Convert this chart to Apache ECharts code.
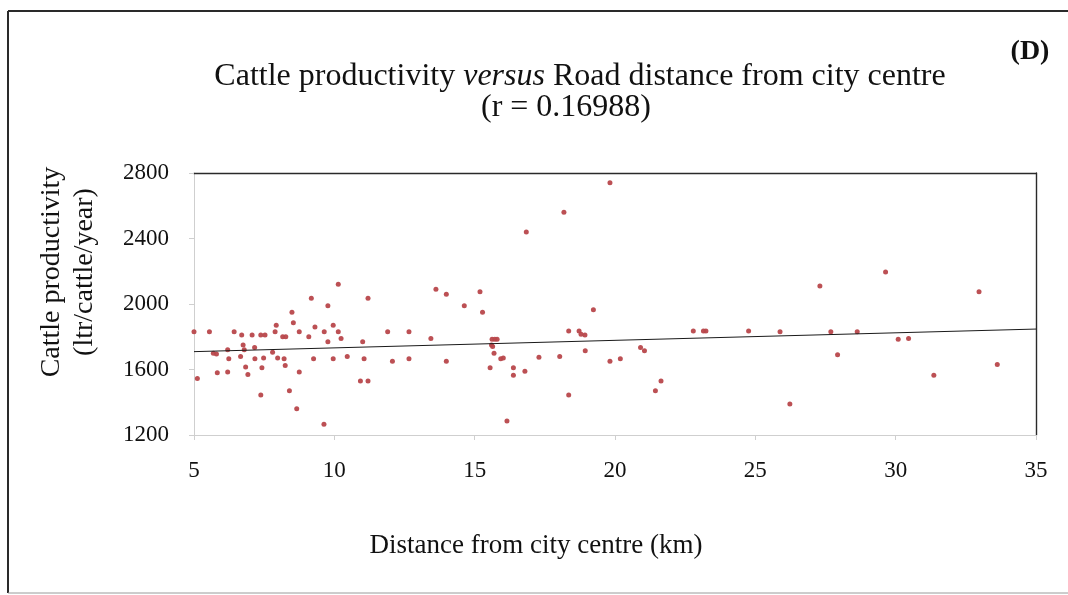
<!DOCTYPE html>
<html>
<head>
<meta charset="utf-8">
<script src="https://cdn.jsdelivr.net/npm/echarts@6/dist/echarts.min.js"></script>
<style>
  html, body { margin: 0; padding: 0; background: #fff; }
  #chart { width: 1068px; height: 595px; }
</style>
</head>
<body>
<div id="chart"></div>
<script>
// Road distance from city centre (km) for each surveyed farm
const distanceKm = [
  5.0, 5.12, 5.55, 5.69, 5.8, 5.83, 6.2, 6.24, 6.2, 6.43, 6.7, 6.75, 6.66, 6.79, 6.84, 6.92,
  7.07, 7.16, 7.17, 7.38, 7.53, 7.42, 7.48, 7.38, 7.8, 7.89, 7.93, 7.98, 8.16, 8.27, 8.21, 8.25,
  8.4, 8.49, 8.54, 8.66, 8.75, 8.75, 9.09, 9.18, 9.26, 9.31, 9.63, 9.64, 9.77, 9.77, 9.96, 9.96,
  10.14, 10.14, 10.24, 10.46, 10.93, 11.01, 11.06, 11.2, 11.2, 11.9, 12.07, 12.66, 12.66, 13.44,
  13.62, 13.99, 13.99, 14.63,
  15.19, 15.28, 15.62, 15.72, 15.8, 15.6, 15.64, 15.69, 15.55, 15.93, 16.02, 16.15, 16.38, 16.38,
  16.79, 16.84, 17.29, 18.03, 18.18, 18.35, 18.35, 18.72, 18.79, 18.93, 18.94, 19.23, 19.82, 19.82,
  20.19, 20.91, 21.05, 21.44, 21.64, 22.79, 23.15, 23.24, 24.76,
  25.88, 26.23, 27.3, 27.69, 27.93, 28.63, 29.64, 30.09, 30.46, 31.36, 32.97, 33.62
];

// Cattle productivity (ltr/cattle/year), same order as distanceKm
const productivity = [
  1830, 1545, 1830, 1700, 1695, 1580, 1720, 1665, 1585, 1830, 1810, 1750, 1680, 1720, 1615, 1570,
  1810, 1735, 1665, 1810, 1810, 1610, 1670, 1445, 1705, 1830, 1870, 1670, 1800, 1800, 1665, 1625,
  1470, 1950, 1885, 1360, 1830, 1585, 1800, 2035, 1665, 1860, 1265, 1830, 1990, 1770, 1870, 1665,
  2120, 1830, 1790, 1680, 1530, 1770, 1665, 2035, 1530, 1830, 1650, 1830, 1665, 1790,
  2090, 2060, 1650, 1990,
  2075, 1950, 1785, 1785, 1785, 1750, 1740, 1700, 1610, 1665, 1670, 1285, 1610, 1565,
  1590, 2440, 1675, 1680, 2560, 1835, 1445, 1835, 1815, 1810, 1715, 1965, 2740, 1650,
  1665, 1735, 1715, 1470, 1530, 1835, 1835, 1835, 1835,
  1830, 1390, 2110, 1830, 1690, 1830, 2195, 1785, 1790, 1565, 2075, 1630
];

// Linear trend line end points [distance, productivity]
const trendX = [5, 35];
const trendY = [1709, 1847];

// Axis ticks
const xTicks = [5, 10, 15, 20, 25, 30, 35];
const yTicks = [1200, 1600, 2000, 2400, 2800];

const serif = '"Liberation Serif", "DejaVu Serif", serif';
const points = distanceKm.map((d, i) => [d, productivity[i]]);
const trend = trendX.map((d, i) => [d, trendY[i]]);

const chart = echarts.init(document.getElementById('chart'), null, { renderer: 'canvas' });

const axisGrey = '#cfcfcf';
const frameDark = '#2a2a2a';
const ink = '#111111';

chart.setOption({
  animation: false,
  backgroundColor: '#ffffff',
  grid: { left: 194, top: 173, right: 32, bottom: 160, containLabel: false },
  xAxis: [
    {
      type: 'value',
      position: 'bottom',
      min: xTicks[0],
      max: xTicks[xTicks.length - 1],
      interval: xTicks[1] - xTicks[0],
      axisLine: { show: true, lineStyle: { color: axisGrey, width: 1 } },
      axisTick: { show: true, inside: false, length: 5, lineStyle: { color: axisGrey } },
      axisLabel: { color: ink, fontFamily: serif, fontSize: 23, margin: 24, formatter: v => String(v) },
      splitLine: { show: false }
    },
    {
      type: 'value',
      position: 'top',
      min: xTicks[0],
      max: xTicks[xTicks.length - 1],
      axisLine: { show: true, onZero: false, lineStyle: { color: frameDark, width: 1.4 } },
      axisTick: { show: false },
      axisLabel: { show: false },
      splitLine: { show: false }
    }
  ],
  yAxis: [
    {
      type: 'value',
      position: 'left',
      min: yTicks[0],
      max: yTicks[yTicks.length - 1],
      interval: yTicks[1] - yTicks[0],
      axisLine: { show: true, lineStyle: { color: axisGrey, width: 1 } },
      axisTick: { show: true, inside: false, length: 5, lineStyle: { color: axisGrey } },
      axisLabel: { color: ink, fontFamily: serif, fontSize: 23, margin: 25, formatter: v => String(v) },
      splitLine: { show: false }
    },
    {
      type: 'value',
      position: 'right',
      min: yTicks[0],
      max: yTicks[yTicks.length - 1],
      axisLine: { show: true, onZero: false, lineStyle: { color: frameDark, width: 1.4 } },
      axisTick: { show: false },
      axisLabel: { show: false },
      splitLine: { show: false }
    }
  ],
  series: [
    {
      name: 'Farms',
      type: 'scatter',
      xAxisIndex: 0,
      yAxisIndex: 0,
      data: points,
      symbol: 'circle',
      symbolSize: 5,
      itemStyle: { color: '#b8474b', opacity: 0.95 }
    },
    {
      name: 'Trend',
      type: 'line',
      xAxisIndex: 0,
      yAxisIndex: 0,
      data: trend,
      symbol: 'none',
      lineStyle: { color: '#1a1a1a', width: 1 },
      z: 3
    }
  ],
  graphic: [
    // outer frame
    { type: 'line', shape: { x1: 8, y1: 11, x2: 1068, y2: 11 }, style: { stroke: frameDark, lineWidth: 2 } },
    { type: 'line', shape: { x1: 8, y1: 11, x2: 8, y2: 593 }, style: { stroke: frameDark, lineWidth: 2 } },
    { type: 'line', shape: { x1: 8, y1: 593, x2: 1068, y2: 593 }, style: { stroke: '#9a9a9a', lineWidth: 1 } },
    // panel tag
    {
      type: 'text', x: 1030, y: 52,
      style: { text: '(D)', font: 'bold 28px ' + serif, fill: ink, textAlign: 'center', textVerticalAlign: 'middle' }
    },
    // title
    {
      type: 'text', x: 580, y: 77,
      style: {
        text: '{n|Cattle productivity }{i|versus}{n| Road distance from city centre}',
        textAlign: 'center', textVerticalAlign: 'middle', fill: ink,
        rich: {
          n: { fontFamily: serif, fontSize: 32, fill: ink },
          i: { fontFamily: serif, fontSize: 32, fontStyle: 'italic', fill: ink }
        }
      }
    },
    {
      type: 'text', x: 566, y: 108,
      style: { text: '(r = 0.16988)', font: '32px ' + serif, fill: ink, textAlign: 'center', textVerticalAlign: 'middle' }
    },
    // y axis name
    {
      type: 'text', x: 68, y: 272, rotation: Math.PI / 2,
      style: {
        text: 'Cattle productivity\n(ltr/cattle/year)',
        font: '28px ' + serif, lineHeight: 33, fill: ink,
        textAlign: 'center', textVerticalAlign: 'middle'
      }
    },
    // x axis name
    {
      type: 'text', x: 536, y: 546,
      style: { text: 'Distance from city centre (km)', font: '27px ' + serif, fill: ink, textAlign: 'center', textVerticalAlign: 'middle' }
    }
  ]
});
</script>
</body>
</html>
